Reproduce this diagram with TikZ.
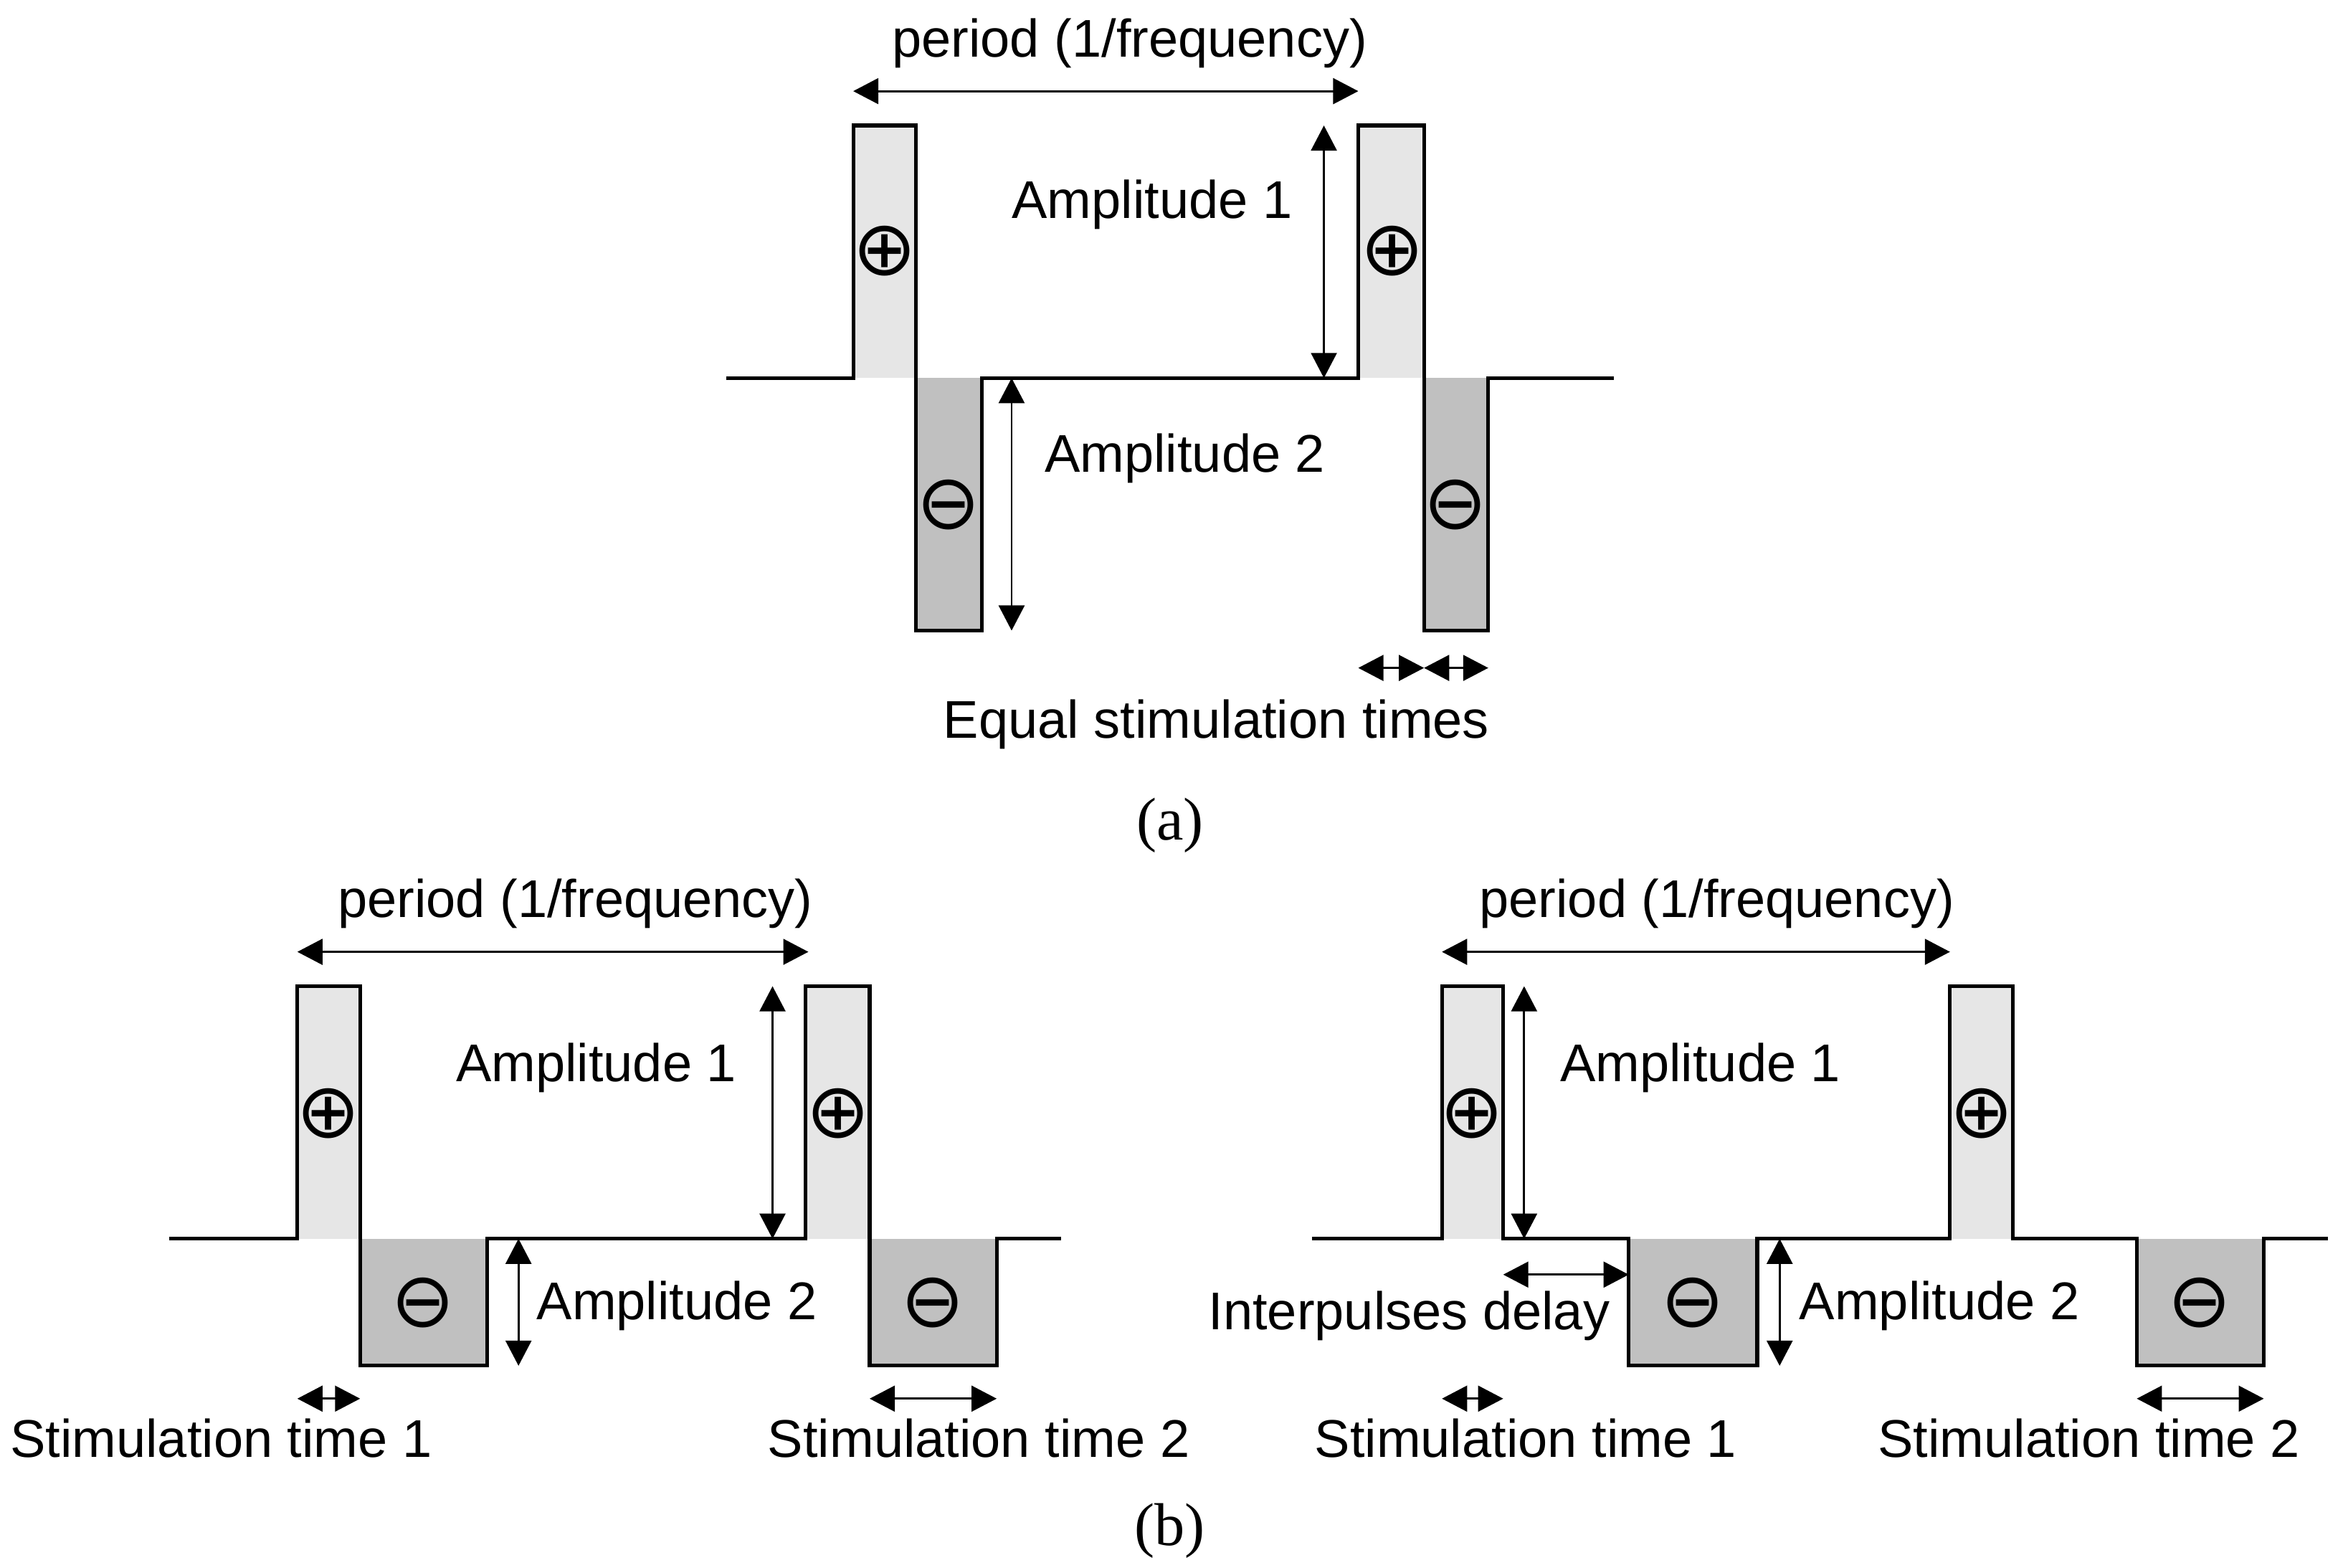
\documentclass[tikz,border=0pt]{standalone}
\usepackage{fontspec}
\setmainfont{Liberation Sans}
\newfontfamily\capfont{Liberation Serif}
\newfontfamily\signfont{DejaVu Sans}
\usetikzlibrary{arrows.meta}
\definecolor{poslight}{RGB}{230,230,230}
\definecolor{negdark}{RGB}{192,192,192}
\begin{document}
\begin{tikzpicture}[x=0.01cm,y=-0.01cm,
  wave/.style={line width=0.7pt, line join=miter},
  dim/.style={line width=0.4pt, {Triangle[length=0.168cm,width=0.172cm]}-{Triangle[length=0.168cm,width=0.172cm]}},
  lbl/.style={font=\fontsize{10.1}{12}\selectfont, inner sep=0pt, anchor=base},
  sign/.style={inner sep=0pt, font=\signfont\fontsize{14.5}{16}\selectfont},
  captxt/.style={font=\capfont\fontsize{11.5}{13}\selectfont, inner sep=0pt, anchor=base},
  posfill/.style={fill=poslight, draw=none},
  negfill/.style={fill=negdark, draw=none}]
\useasboundingbox (0,0) rectangle (1568,1049);

% ================= panel (a) =================
\fill[posfill] (571,84) rectangle (613,253);
\fill[negfill] (613,253) rectangle (657,422);
\fill[posfill] (909,84) rectangle (953,253);
\fill[negfill] (953,253) rectangle (996,422);
\draw[wave] (486,253) -- (571,253) -- (571,84) -- (613,84) -- (613,422) -- (657,422) -- (657,253)
  -- (909,253) -- (909,84) -- (953,84) -- (953,422) -- (996,422) -- (996,253) -- (1080,253);

\node[sign] (aP1) at (592,168) {⊕};
\node[sign] (aP2) at (932,168) {⊕};
\node[sign] (aN1) at (635,338) {⊖};
\node[sign] (aN2) at (974,338) {⊖};

\coordinate (aPerL) at (571,61);
\coordinate (aPerR) at (909,61);
\draw[dim] (aPerL) -- (aPerR);
\node[lbl] (aPer) at (756,38) {period (1/frequency)};

\coordinate (aA1t) at (886,84);
\coordinate (aA1b) at (886,253);
\draw[dim] (aA1t) -- (aA1b);
\node[lbl] (aAmp1) at (771,146) {Amplitude 1};

\coordinate (aA2t) at (677,253);
\coordinate (aA2b) at (677,422);
\draw[dim] (aA2t) -- (aA2b);
\node[lbl] (aAmp2) at (793,316) {Amplitude 2};

\coordinate (aE1) at (909,447);
\coordinate (aE2) at (953,447);
\coordinate (aE3) at (996,447);
\draw[dim] (aE1) -- (aE2);
\draw[dim] (aE2) -- (aE3);
\node[lbl] (aEq) at (814,494) {Equal stimulation times};

\node[captxt] (capA) at (783,562) {(a)};

% ================= panel (b) left =================
\fill[posfill] (199,660) rectangle (241,829);
\fill[negfill] (241,829) rectangle (326,914);
\fill[posfill] (539,660) rectangle (582,829);
\fill[negfill] (582,829) rectangle (667,914);
\draw[wave] (113,829) -- (199,829) -- (199,660) -- (241,660) -- (241,914) -- (326,914) -- (326,829)
  -- (539,829) -- (539,660) -- (582,660) -- (582,914) -- (667,914) -- (667,829) -- (710,829);

\node[sign] (lP1) at (220,745) {⊕};
\node[sign] (lP2) at (561,745) {⊕};
\node[sign] (lN1) at (283,872) {⊖};
\node[sign] (lN2) at (624,872) {⊖};

\coordinate (lPerL) at (199,637);
\coordinate (lPerR) at (541,637);
\draw[dim] (lPerL) -- (lPerR);
\node[lbl] (lPer) at (385,614) {period (1/frequency)};

\coordinate (lA1t) at (517,660);
\coordinate (lA1b) at (517,829);
\draw[dim] (lA1t) -- (lA1b);
\node[lbl] (lAmp1) at (399,724) {Amplitude 1};

\coordinate (lA2t) at (347,829);
\coordinate (lA2b) at (347,914);
\draw[dim] (lA2t) -- (lA2b);
\node[lbl] (lAmp2) at (453,883) {Amplitude 2};

\coordinate (lS1a) at (199,936);
\coordinate (lS1b) at (241,936);
\draw[dim] (lS1a) -- (lS1b);
\node[lbl] (lSt1) at (148,975) {Stimulation time 1};

\coordinate (lS2a) at (582,936);
\coordinate (lS2b) at (667,936);
\draw[dim] (lS2a) -- (lS2b);
\node[lbl] (lSt2) at (655,975) {Stimulation time 2};

% ================= panel (b) right =================
\fill[posfill] (965,660) rectangle (1006,829);
\fill[negfill] (1090,829) rectangle (1176,914);
\fill[posfill] (1305,660) rectangle (1347,829);
\fill[negfill] (1430,829) rectangle (1515,914);
\draw[wave] (878,829) -- (965,829) -- (965,660) -- (1006,660) -- (1006,829) -- (1090,829) -- (1090,914)
  -- (1176,914) -- (1176,829) -- (1305,829) -- (1305,660) -- (1347,660) -- (1347,829) -- (1430,829)
  -- (1430,914) -- (1515,914) -- (1515,829) -- (1558,829);

\node[sign] (rP1) at (985,745) {⊕};
\node[sign] (rP2) at (1326,745) {⊕};
\node[sign] (rN1) at (1133,872) {⊖};
\node[sign] (rN2) at (1472,872) {⊖};

\coordinate (rPerL) at (965,637);
\coordinate (rPerR) at (1305,637);
\draw[dim] (rPerL) -- (rPerR);
\node[lbl] (rPer) at (1149,614) {period (1/frequency)};

\coordinate (rA1t) at (1020,660);
\coordinate (rA1b) at (1020,829);
\draw[dim] (rA1t) -- (rA1b);
\node[lbl] (rAmp1) at (1138,724) {Amplitude 1};

\coordinate (rDa) at (1006,853);
\coordinate (rDb) at (1090,853);
\draw[dim] (rDa) -- (rDb);
\node[lbl] (rDel) at (943,890) {Interpulses delay};

\coordinate (rA2t) at (1191,829);
\coordinate (rA2b) at (1191,914);
\draw[dim] (rA2t) -- (rA2b);
\node[lbl] (rAmp2) at (1298,883) {Amplitude 2};

\coordinate (rS1a) at (965,936);
\coordinate (rS1b) at (1006,936);
\draw[dim] (rS1a) -- (rS1b);
\node[lbl] (rSt1) at (1021,975) {Stimulation time 1};

\coordinate (rS2a) at (1430,936);
\coordinate (rS2b) at (1515,936);
\draw[dim] (rS2a) -- (rS2b);
\node[lbl] (rSt2) at (1398,975) {Stimulation time 2};

\node[captxt] (capB) at (783,1034) {(b)};
\end{tikzpicture}
\end{document}
